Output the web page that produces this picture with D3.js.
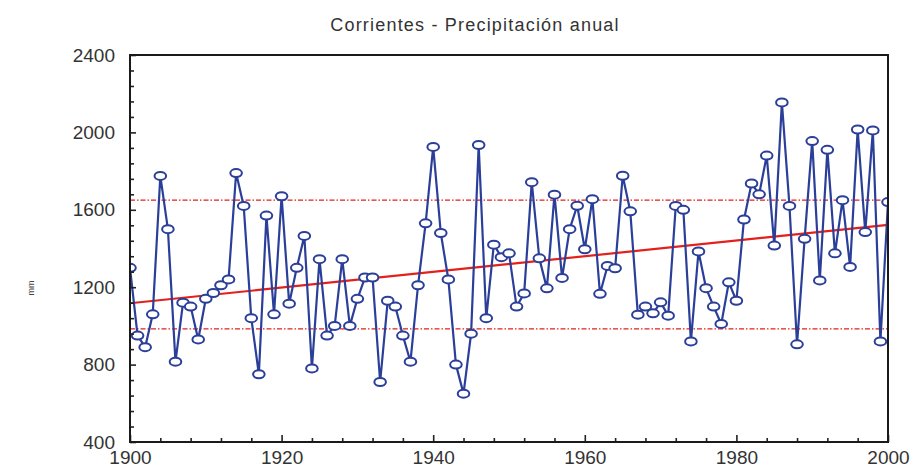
<!DOCTYPE html>
<html>
<head>
<meta charset="utf-8">
<script src="https://cdn.jsdelivr.net/npm/d3@7"></script>
<style>
  body { margin: 0; background: #fff; }
  svg { display: block; }
</style>
</head>
<body>
<div id="content"><svg id="chart" width="910" height="469"></svg></div>
<script>
// years and annual rainfall (mm)
var years = [
  1900, 1901, 1902, 1903, 1904, 1905, 1906, 1907, 1908, 1909,
  1910, 1911, 1912, 1913, 1914, 1915, 1916, 1917, 1918, 1919,
  1920, 1921, 1922, 1923, 1924, 1925, 1926, 1927, 1928, 1929,
  1930, 1931, 1932, 1933, 1934, 1935, 1936, 1937, 1938, 1939,
  1940, 1941, 1942, 1943, 1944, 1945, 1946, 1947, 1948, 1949,
  1950, 1951, 1952, 1953, 1954, 1955, 1956, 1957, 1958, 1959,
  1960, 1961, 1962, 1963, 1964, 1965, 1966, 1967, 1968, 1969,
  1970, 1971, 1972, 1973, 1974, 1975, 1976, 1977, 1978, 1979,
  1980, 1981, 1982, 1983, 1984, 1985, 1986, 1987, 1988, 1989,
  1990, 1991, 1992, 1993, 1994, 1995, 1996, 1997, 1998, 1999,
  2000
];
var precip = [
  1300, 950, 890, 1060, 1775, 1500, 815, 1120, 1100, 930,
  1140, 1170, 1210, 1240, 1790, 1620, 1040, 750, 1570, 1060,
  1670, 1115, 1300, 1465, 780, 1345, 950, 1000, 1345, 1000,
  1140, 1250, 1250, 710, 1130, 1100, 950, 815, 1210, 1530,
  1925, 1480, 1240, 800, 650, 960, 1935, 1040, 1420, 1355,
  1375, 1100, 1168, 1743, 1349, 1194, 1678, 1248, 1500, 1621,
  1396, 1655, 1166, 1310, 1298, 1776, 1592, 1058, 1100, 1065,
  1122, 1053, 1620, 1600, 920, 1385, 1195, 1100, 1010, 1225,
  1130, 1550, 1736, 1680, 1880, 1415, 2155, 1620, 905, 1450,
  1955, 1235, 1910, 1375, 1650, 1305, 2015, 1485, 2010, 920,
  1640
];

// linear trend (end points) and the two dash-dot limits
var trendYears = [1900, 2000];
var trendValues = [1117, 1522];
var limits = [1650, 985];

var xTicks = [1900, 1920, 1940, 1960, 1980, 2000];
var xMinor = [1904, 1908, 1912, 1916, 1924, 1928, 1932, 1936, 1944, 1948, 1952, 1956,
              1964, 1968, 1972, 1976, 1984, 1988, 1992, 1996];
var yTicks = [400, 800, 1200, 1600, 2000, 2400];
var yMinor = [480, 560, 640, 720, 880, 960, 1040, 1120, 1280, 1360, 1440, 1520,
              1680, 1760, 1840, 1920, 2080, 2160, 2240, 2320];

var titleText = 'Corrientes - Precipitación anual';

var svg = d3.select('#chart');
var plotL = 130, plotR = 888, plotT = 55, plotB = 442;

var x = d3.scaleLinear().domain([1900, 2000]).range([plotL, plotR]);
var y = d3.scaleLinear().domain([400, 2400]).range([plotB, plotT]);

var blue = '#2b3f99';
var red = '#e3201b';
var font = '"Liberation Sans", Arial, sans-serif';

// title
svg.append('text')
    .attr('x', 475)
    .attr('y', 31)
    .attr('text-anchor', 'middle')
    .style('font-family', font)
    .style('font-size', '18px')
    .style('letter-spacing', '1.2px')
    .style('fill', '#333')
    .text(titleText);

// small rotated unit label on the far left
svg.append('text')
    .attr('transform', 'translate(34,288) rotate(-90)')
    .attr('text-anchor', 'middle')
    .style('font-family', font)
    .style('font-size', '9px')
    .style('fill', '#444')
    .text('mm');

var plot = svg.append('g');

plot.append('clipPath').attr('id', 'clip')
    .append('rect')
    .attr('x', plotL).attr('y', plotT)
    .attr('width', plotR - plotL).attr('height', plotB - plotT);

// limits
plot.selectAll('line.limit')
    .data(limits)
    .enter().append('line')
    .attr('class', 'limit')
    .attr('x1', x(1900)).attr('x2', x(2000))
    .attr('y1', d => y(d)).attr('y2', d => y(d))
    .attr('stroke', red)
    .attr('stroke-width', 1.3)
    .attr('stroke-dasharray', '5,2,1.5,2');

// trend
var trend = trendYears.map((t, i) => [t, trendValues[i]]);
plot.append('path')
    .datum(trend)
    .attr('fill', 'none')
    .attr('stroke', red)
    .attr('stroke-width', 2.2)
    .attr('d', d3.line().x(d => x(d[0])).y(d => y(d[1])));

// series
var series = years.map((yr, i) => [yr, precip[i]]);
var g = plot.append('g').attr('clip-path', 'url(#clip)');

g.append('path')
    .datum(series)
    .attr('fill', 'none')
    .attr('stroke', blue)
    .attr('stroke-width', 2.2)
    .attr('stroke-linejoin', 'round')
    .attr('d', d3.line().x(d => x(d[0])).y(d => y(d[1])));

g.selectAll('ellipse')
    .data(series)
    .enter().append('ellipse')
    .attr('cx', d => x(d[0]))
    .attr('cy', d => y(d[1]))
    .attr('rx', 5.8)
    .attr('ry', 4)
    .attr('fill', '#fff')
    .attr('stroke', blue)
    .attr('stroke-width', 2);

// axes (ticks pointing into the plot)
var yAxis = d3.axisLeft(y)
    .tickValues(yTicks)
    .tickSize(-6)
    .tickPadding(15)
    .tickFormat(d3.format('d'));
var yAxisMinor = d3.axisLeft(y).tickValues(yMinor).tickSize(-4).tickFormat('');

var xAxis = d3.axisBottom(x)
    .tickValues(xTicks)
    .tickSize(-7)
    .tickPadding(9)
    .tickFormat(d3.format('d'));
var xAxisMinor = d3.axisBottom(x).tickValues(xMinor).tickSize(-4).tickFormat('');

svg.append('g').attr('transform', 'translate(' + plotL + ',0)').call(yAxisMinor);
svg.append('g').attr('transform', 'translate(0,' + plotB + ')').call(xAxisMinor);
var ya = svg.append('g').attr('transform', 'translate(' + plotL + ',0)').call(yAxis);
var xa = svg.append('g').attr('transform', 'translate(0,' + plotB + ')').call(xAxis);

svg.selectAll('.domain').remove();
svg.selectAll('.tick line').attr('stroke', '#222').attr('stroke-width', 1.6);
[ya, xa].forEach(a => a.selectAll('text')
    .style('font-family', font)
    .style('font-size', '19px')
    .style('fill', '#333'));

// frame
svg.append('rect')
    .attr('x', plotL).attr('y', plotT)
    .attr('width', plotR - plotL).attr('height', plotB - plotT)
    .attr('fill', 'none')
    .attr('stroke', '#1a1a1a')
    .attr('stroke-width', 2);
</script>
</body>
</html>
